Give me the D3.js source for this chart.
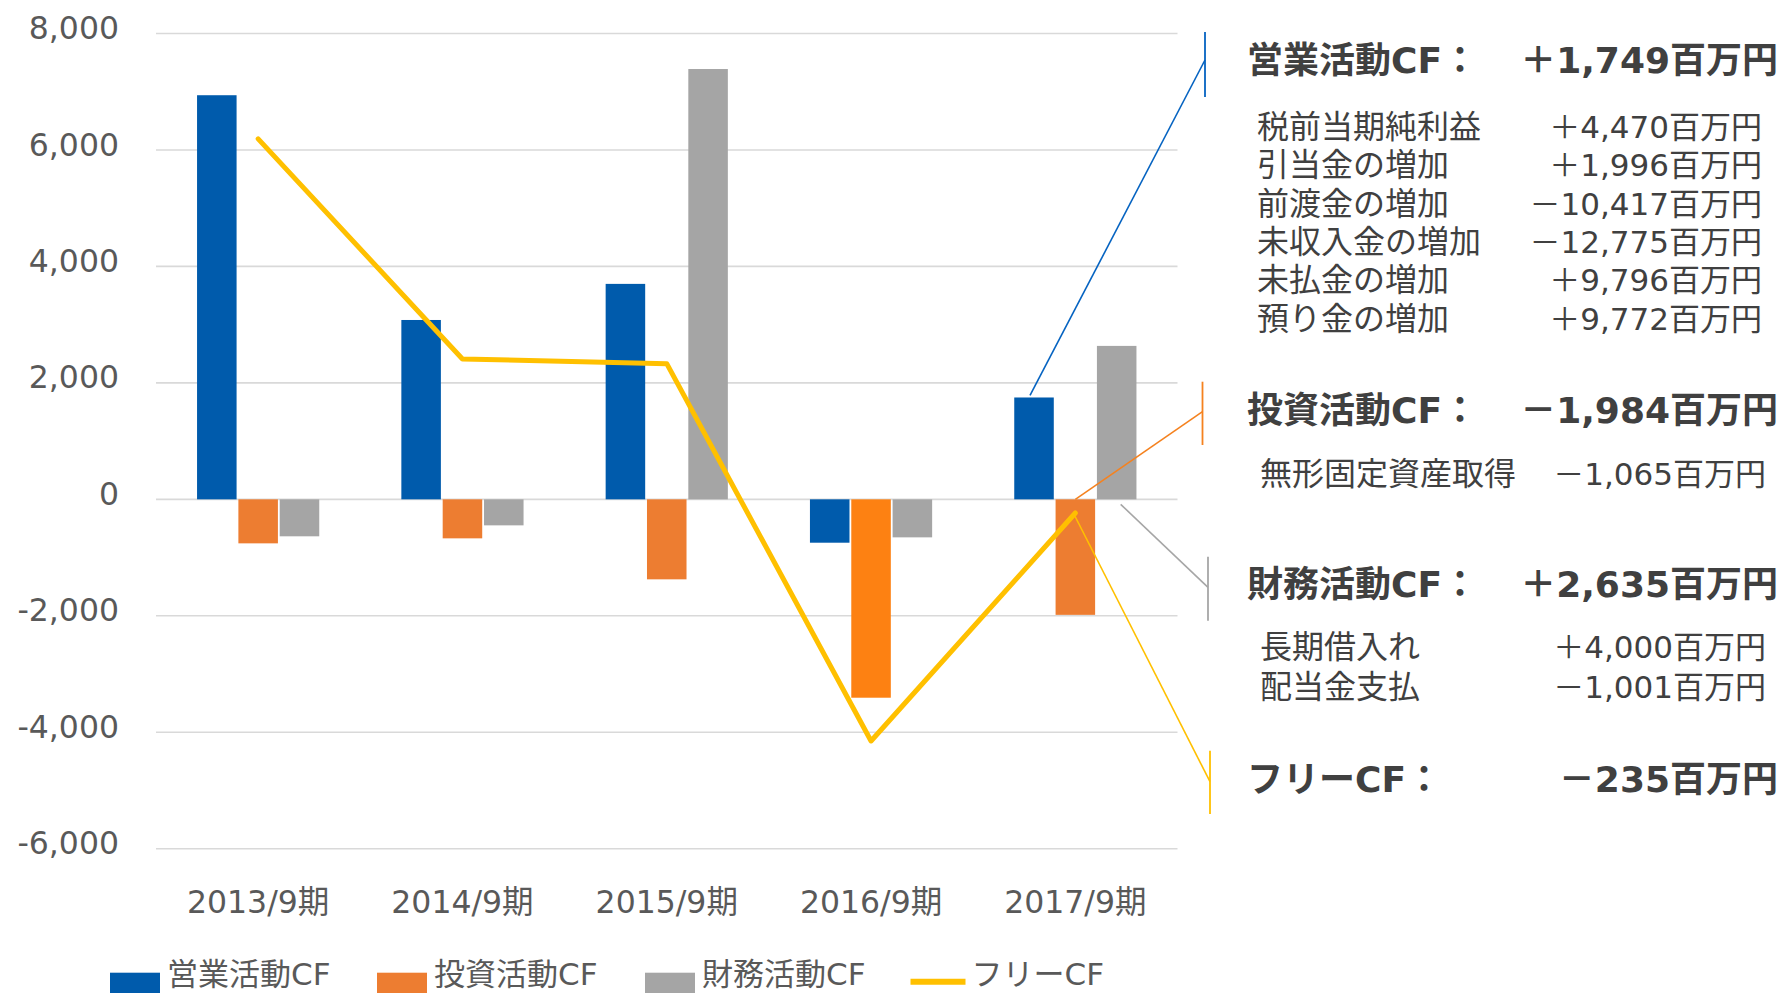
<!DOCTYPE html>
<html>
<head>
<meta charset="utf-8">
<script src="https://cdn.jsdelivr.net/npm/d3@7"></script>
<style>
  body{margin:0;background:#fff}
  svg{display:block}
  text{font-family:"DejaVu Sans","Noto Sans CJK JP",sans-serif}
</style>
</head>
<body>
<svg id="chart" width="1786" height="993"></svg>
<script>
// cash-flow chart: grouped bars + free CF line, notes on the right

const categories  = ["2013/9期","2014/9期","2015/9期","2016/9期","2017/9期"];
const operatingCF = [6940, 3080, 3700, -745, 1749];
const investingCF = [-756, -670, -1374, -3407, -1984];
const financingCF = [-635, -447, 7390, -653, 2635];
const freeCF      = [6190, 2410, 2330, -4150, -235];
const seriesNames = ["営業活動CF","投資活動CF","財務活動CF","フリーCF"];
const yTicks      = [-6000,-4000,-2000,0,2000,4000,6000,8000];

const headingLabels = ["営業活動CF：","投資活動CF：","財務活動CF：","フリーCF："];
const headingValues = ["＋1,749百万円","－1,984百万円","＋2,635百万円","－235百万円"];

const opDetailLabels  = ["税前当期純利益","引当金の増加","前渡金の増加","未収入金の増加","未払金の増加","預り金の増加"];
const opDetailValues  = ["＋4,470百万円","＋1,996百万円","－10,417百万円","－12,775百万円","＋9,796百万円","＋9,772百万円"];
const invDetailLabels = ["無形固定資産取得"];
const invDetailValues = ["－1,065百万円"];
const finDetailLabels = ["長期借入れ","配当金支払"];
const finDetailValues = ["＋4,000百万円","－1,001百万円"];

// styles
const C_OP="#005BAC", C_INV="#ED7D31", C_FIN="#A5A5A5", C_FREE="#FFC000";
const C_INV_HI="#FD8112";          // 2016 investing bar is brighter
const TXT="#404040", AXIS_TXT="#595959", GRID="#D9D9D9";

const svg=d3.select("#chart");

const x0=d3.scaleBand().domain(categories).range([156,1177.5]);
const x1=d3.scaleBand().domain(["op","inv","fin"]).range([-62,62]);
const y =d3.scaleLinear().domain([-6000,8000]).range([848.7,33.5]);
const cx=c=>x0(c)+x0.bandwidth()/2;

// gridlines
svg.append("g").selectAll("line").data(yTicks).join("line")
  .attr("x1",156).attr("x2",1177.5)
  .attr("y1",d=>y(d)).attr("y2",d=>y(d))
  .attr("stroke",GRID).attr("stroke-width",1.6);

// y axis
const fmt=d=>d3.format(",")(d).replace("−","-");
svg.append("g").attr("transform","translate(156,0)")
  .call(d3.axisLeft(y).tickValues(yTicks).tickSize(0).tickPadding(37).tickFormat(fmt))
  .call(a=>a.select(".domain").remove())
  .call(a=>a.selectAll("text")
    .attr("y",-5).attr("fill",AXIS_TXT)
    .style("font-size","31.5px").style("font-family","'DejaVu Sans',sans-serif"));

// x axis
svg.append("g").attr("transform","translate(0,890.5)")
  .call(d3.axisBottom(x0).tickSize(0).tickPadding(0))
  .call(a=>a.select(".domain").remove())
  .call(a=>a.selectAll("text")
    .attr("fill",AXIS_TXT)
    .style("font-size","31.5px").style("font-family","'DejaVu Sans','Noto Sans CJK JP',sans-serif"));

// bars
const barSeries=[
  {key:"op", vals:operatingCF, color:()=>C_OP},
  {key:"inv",vals:investingCF, color:c=>c==="2016/9期"?C_INV_HI:C_INV},
  {key:"fin",vals:financingCF, color:()=>C_FIN},
];
barSeries.forEach(s=>{
  svg.append("g").selectAll("rect").data(categories).join("rect")
    .attr("x",c=>cx(c)+x1(s.key)+0.9)
    .attr("width",x1.bandwidth()-1.8)
    .attr("y",(c,i)=>y(Math.max(0,s.vals[i])))
    .attr("height",(c,i)=>Math.abs(y(s.vals[i])-y(0)))
    .attr("fill",c=>s.color(c));
});

// free CF line
svg.append("path")
  .datum(categories)
  .attr("d",d3.line().x(c=>cx(c)).y((c,i)=>y(freeCF[i])))
  .attr("fill","none").attr("stroke",C_FREE).attr("stroke-width",5)
  .attr("stroke-linecap","round").attr("stroke-linejoin","round");

// leader lines to the notes
const last=categories[4];
const leaders=[
  {color:"#0563C1", from:[cx(last)+x1("op")+x1.bandwidth()/2-4, y(operatingCF[4])-2], bx:1205,   by:[32,97],   meet:60},
  {color:"#F5821F", from:[cx(last)+x1("inv")+x1.bandwidth()/2,   y(0)],                bx:1202.5, by:[381.7,445], meet:411.7},
  {color:"#A6A6A6", from:[cx(last)+x1("fin")+x1.bandwidth()/2+4, y(0)+5],              bx:1208,   by:[556.7,620.7], meet:587.3},
  {color:C_FREE,    from:[cx(last)-2, y(freeCF[4])],                                   bx:1210,   by:[750.7,814], meet:781.7},
];
leaders.forEach(l=>{
  svg.append("line").attr("x1",l.from[0]).attr("y1",l.from[1])
    .attr("x2",l.bx).attr("y2",l.meet)
    .attr("stroke",l.color).attr("stroke-width",1.6);
  svg.append("line").attr("x1",l.bx).attr("x2",l.bx)
    .attr("y1",l.by[0]).attr("y2",l.by[1])
    .attr("stroke",l.color).attr("stroke-width",1.8);
});

// notes on the right
const headingY=[59,409,583.5,778];
headingLabels.forEach((t,i)=>{
  svg.append("text").attr("x",1247).attr("y",headingY[i]+13.7)
    .attr("fill",TXT).style("font-size","36px").style("font-weight","bold").text(t);
  svg.append("text").attr("x",1778).attr("y",headingY[i]+13.7)
    .attr("text-anchor","end")
    .attr("fill",TXT).style("font-size","36px").style("font-weight","bold").text(headingValues[i]);
});

const blocks=[
  {labels:opDetailLabels,  values:opDetailValues,  x:1257, vx:1762, y0:125.7, step:38.4},
  {labels:invDetailLabels, values:invDetailValues, x:1260, vx:1766, y0:472.5, step:38.4},
  {labels:finDetailLabels, values:finDetailValues, x:1260, vx:1766, y0:646,   step:39.5},
];
blocks.forEach(b=>{
  b.labels.forEach((t,i)=>{
    const yy=b.y0+i*b.step+12;
    svg.append("text").attr("x",b.x).attr("y",yy)
      .attr("fill",TXT).style("font-size","32px").text(t);
    svg.append("text").attr("x",b.vx).attr("y",yy).attr("text-anchor","end")
      .attr("fill",TXT).style("font-size","31px").text(b.values[i]);
  });
});

// legend along the bottom edge
const legendX=[110,377,645,910.5];
const legendColors=[C_OP,C_INV,C_FIN,C_FREE];
seriesNames.forEach((name,i)=>{
  const g=svg.append("g");
  if(i<3){
    g.append("rect").attr("x",legendX[i]).attr("y",972.7)
      .attr("width",50).attr("height",50).attr("fill",legendColors[i]);
  }else{
    g.append("line").attr("x1",legendX[i]).attr("x2",legendX[i]+55)
      .attr("y1",981.7).attr("y2",981.7)
      .attr("stroke",legendColors[i]).attr("stroke-width",6);
  }
  g.append("text").attr("x",legendX[i]+(i<3?57:61)).attr("y",985)
    .attr("fill",AXIS_TXT).style("font-size","31px").text(name);
});
</script>
</body>
</html>
